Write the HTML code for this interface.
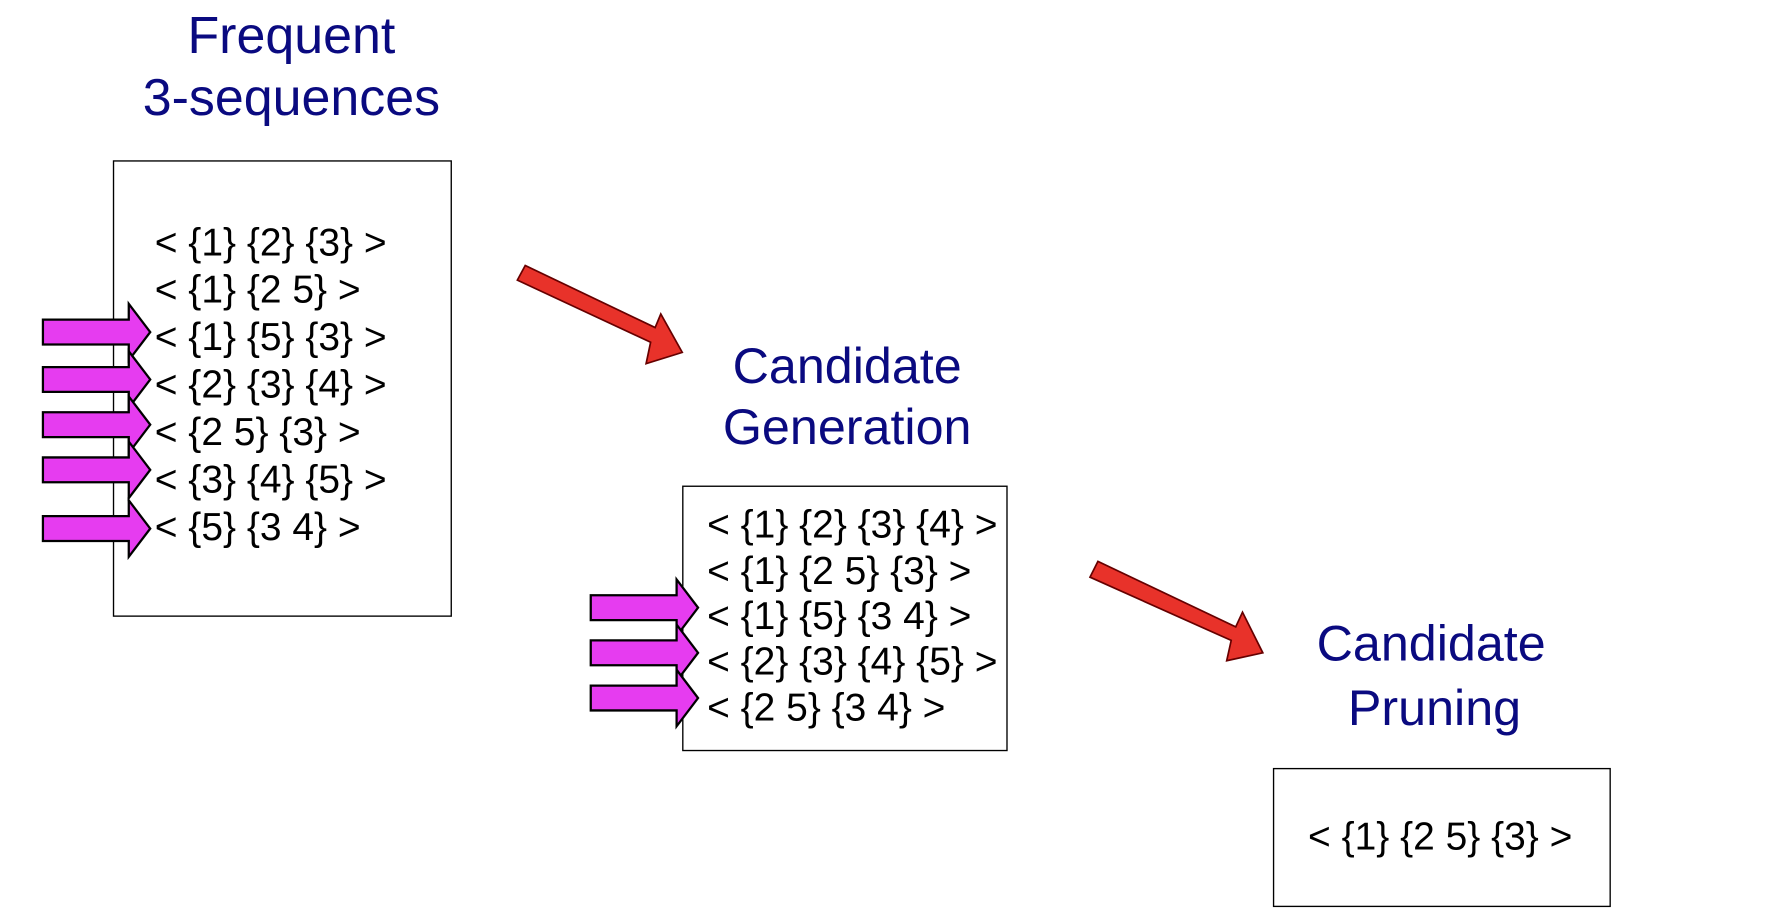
<!DOCTYPE html>
<html><head><meta charset="utf-8"><style>
html,body{margin:0;padding:0;background:#fff;}
svg{display:block;}
text{font-family:"Liberation Sans",Arial,sans-serif;}
</style></head><body>
<svg width="1770" height="916" viewBox="0 0 1567 811" preserveAspectRatio="none">
<defs>
<g id="pa"><polygon points="0,-11 76,-11 76,-25 95,0 76,25 76,11 0,11" fill="#e63cf0" stroke="#000" stroke-width="2"/></g>
</defs>
<g fill="#0a0a80" font-size="46" text-anchor="middle">
<text x="258" y="47">Frequent</text><text x="258" y="102">3-sequences</text></g>
<rect x="100.5" y="142.5" width="299" height="403" fill="none" stroke="#000" stroke-width="1.2"/>
<g font-size="34.5" fill="#000">
<text x="137" y="226">&lt; {1} {2} {3} &gt;</text>
<text x="137" y="268">&lt; {1} {2 5} &gt;</text>
<text x="137" y="310">&lt; {1} {5} {3} &gt;</text>
<text x="137" y="352">&lt; {2} {3} {4} &gt;</text>
<text x="137" y="394">&lt; {2 5} {3} &gt;</text>
<text x="137" y="436">&lt; {3} {4} {5} &gt;</text>
<text x="137" y="478">&lt; {5} {3 4} &gt;</text>
</g>
<g>
<use href="#pa" x="38" y="294"/><use href="#pa" x="38" y="336"/><use href="#pa" x="38" y="376"/><use href="#pa" x="38" y="416"/><use href="#pa" x="38" y="468"/>
</g>
<polygon points="458,248 465,235 580,290 585,278 604,312 572,322 576,303" fill="#e8322a" stroke="#600" stroke-width="1.5"/>
<g fill="#0a0a80" font-size="44.5" text-anchor="middle">
<text x="750" y="339">Candidate</text><text x="750" y="393">Generation</text></g>
<rect x="604.5" y="430.5" width="287" height="234" fill="none" stroke="#000" stroke-width="1.2"/>
<g font-size="34.5" fill="#000">
<text x="626" y="476">&lt; {1} {2} {3} {4} &gt;</text>
<text x="626" y="517">&lt; {1} {2 5} {3} &gt;</text>
<text x="626" y="557">&lt; {1} {5} {3 4} &gt;</text>
<text x="626" y="597">&lt; {2} {3} {4} {5} &gt;</text>
<text x="626" y="638">&lt; {2 5} {3 4} &gt;</text>
</g>
<g>
<use href="#pa" x="523" y="538"/><use href="#pa" x="523" y="578"/><use href="#pa" x="523" y="618"/>
</g>
<polygon points="965,511 972,497 1094,555 1100,542 1118,578 1086,585 1090,567" fill="#e8322a" stroke="#600" stroke-width="1.5"/>
<g fill="#0a0a80" font-size="44.5" text-anchor="middle">
<text x="1267" y="585">Candidate</text><text x="1270" y="642">Pruning</text></g>
<rect x="1127.5" y="680.5" width="298" height="122" fill="none" stroke="#000" stroke-width="1.2"/>
<text x="1158" y="752" font-size="34.5" fill="#000">&lt; {1} {2 5} {3} &gt;</text>
</svg>
</body></html>
